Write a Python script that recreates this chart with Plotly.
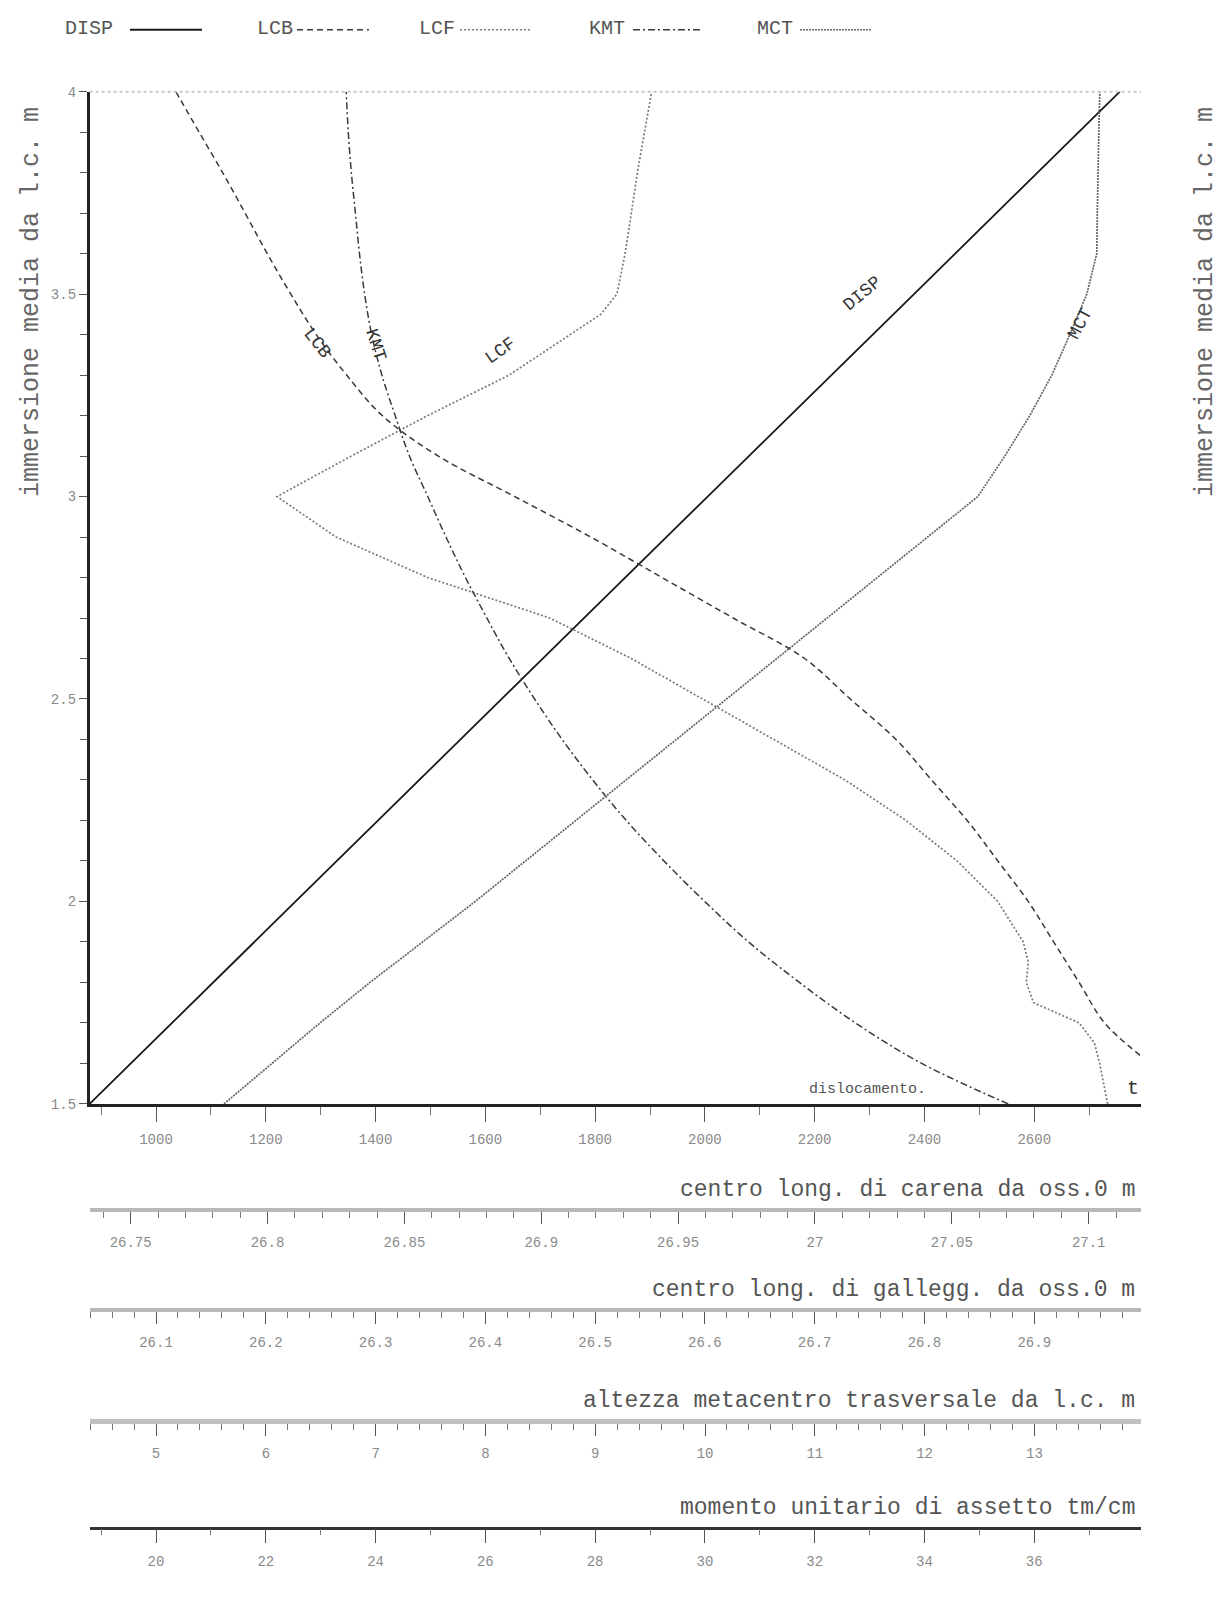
import plotly.graph_objects as go

W, H = 1223, 1597

# ---------------- data ----------------
disp_draft = [1.5, 2.0, 2.5, 3.0, 3.5, 4.0]
disp_t = [879, 1254, 1630, 2005, 2381, 2756]

lcb_draft = [1.62, 1.7, 1.8, 1.9, 2.0, 2.1, 2.2, 2.3, 2.4, 2.5, 2.6, 2.7, 2.8,
             2.9, 3.0, 3.1, 3.2, 3.3, 3.4, 3.5, 3.6, 3.7, 3.8, 3.9, 4.0]
lcb_m = [27.1188, 27.1058, 27.0965, 27.0872, 27.0779, 27.0668, 27.0556, 27.0426,
         27.0296, 27.0129, 26.9962, 26.9701, 26.9441, 26.9181, 26.8903, 26.8624,
         26.8419, 26.8289, 26.8178, 26.8085, 26.7999, 26.7918, 26.7836, 26.775, 26.7665]

lcf_draft = [1.5, 1.6, 1.65, 1.7, 1.75, 1.8, 1.85, 1.9, 2.0, 2.1, 2.2, 2.3, 2.4,
             2.5, 2.6, 2.7, 2.8, 2.9, 3.0, 3.1, 3.2, 3.3, 3.4, 3.45, 3.5, 3.6,
             3.7, 3.8, 3.9, 4.0]
lcf_m = [26.9669, 26.9596, 26.9549, 26.941, 26.8993, 26.8928, 26.8946, 26.89,
         26.8668, 26.8297, 26.7833, 26.7277, 26.6628, 26.5978, 26.533, 26.4587,
         26.3475, 26.264, 26.2102, 26.2779, 26.3475, 26.4217, 26.4773, 26.5051,
         26.5199, 26.5273, 26.533, 26.5385, 26.545, 26.5515]

kmt_draft = [1.5, 1.6, 1.7, 1.8, 1.9, 2.0, 2.1, 2.2, 2.3, 2.4, 2.5, 2.6, 2.7,
             2.8, 2.9, 3.0, 3.1, 3.2, 3.3, 3.4, 3.5, 3.6, 3.7, 3.8, 3.9, 4.0]
kmt_m = [12.761, 11.973, 11.370, 10.860, 10.396, 9.997, 9.626, 9.283, 8.977,
         8.699, 8.448, 8.217, 8.013, 7.818, 7.641, 7.475, 7.308, 7.178, 7.057,
         6.964, 6.900, 6.853, 6.816, 6.779, 6.751, 6.732]

mct_draft = [1.5, 1.6, 1.7, 1.8, 2.0, 2.5, 3.0, 3.1, 3.2, 3.3, 3.4, 3.5, 3.6,
             3.7, 3.8, 3.9, 4.0]
mct_tm = [21.239, 22.113, 22.987, 23.898, 25.816, 30.395, 34.973, 35.464, 35.920,
          36.321, 36.648, 36.958, 37.140, 37.149, 37.158, 37.177, 37.195]

# tick labels
y_ticks = [1.5, 2.0, 2.5, 3.0, 3.5, 4.0]
y_ticktext = ["1.5", "2", "2.5", "3", "3.5", "4"]
disp_ticks = [1000, 1200, 1400, 1600, 1800, 2000, 2200, 2400, 2600]
lcb_ticks = [26.75, 26.8, 26.85, 26.9, 26.95, 27.0, 27.05, 27.1]
lcb_ticktext = ["26.75", "26.8", "26.85", "26.9", "26.95", "27", "27.05", "27.1"]
lcf_ticks = [26.1, 26.2, 26.3, 26.4, 26.5, 26.6, 26.7, 26.8, 26.9]
lcf_ticktext = ["26.1", "26.2", "26.3", "26.4", "26.5", "26.6", "26.7", "26.8", "26.9"]
kmt_ticks = [5, 6, 7, 8, 9, 10, 11, 12, 13]
mct_ticks = [20, 22, 24, 26, 28, 30, 32, 34, 36]

series_names = ["DISP", "LCB", "LCF", "KMT", "MCT"]

# ---------------- styling / layout ----------------
FONT = "Liberation Mono"
styles = {
    "DISP": dict(color="#1a1a1a", width=1.8, dash="solid"),
    "LCB": dict(color="#3a3a3a", width=1.5, dash="6px,4px"),
    "LCF": dict(color="#7a7a7a", width=1.7, dash="2px,2px"),
    "KMT": dict(color="#3a3a3a", width=1.5, dash="7px,3px,2px,3px"),
    "MCT": dict(color="#666666", width=1.7, dash="2px,1px"),
}

def px(x):
    return x / W

def py(y):
    return 1 - y / H

X0, X1 = 89.6, 1140.7
Y_TOP, Y_BOT = 85.5, 1108
x_dom = [px(X0), px(X1)]
y_dom = [py(Y_BOT), py(Y_TOP)]

axis_line_y = {"LCB": 1215, "LCF": 1316, "KMT": 1428, "MCT": 1536}

fig = go.Figure()
fig.add_trace(go.Scatter(x=disp_t, y=disp_draft, mode="lines", line=styles["DISP"],
                         xaxis="x", yaxis="y", showlegend=False))
fig.add_trace(go.Scatter(x=lcb_m, y=lcb_draft, mode="lines", line=styles["LCB"],
                         xaxis="x2", yaxis="y", showlegend=False, line_shape="spline"))
fig.add_trace(go.Scatter(x=lcf_m, y=lcf_draft, mode="lines", line=styles["LCF"],
                         xaxis="x3", yaxis="y", showlegend=False))
fig.add_trace(go.Scatter(x=kmt_m, y=kmt_draft, mode="lines", line=styles["KMT"],
                         xaxis="x4", yaxis="y", showlegend=False, line_shape="spline"))
fig.add_trace(go.Scatter(x=mct_tm, y=mct_draft, mode="lines", line=styles["MCT"],
                         xaxis="x5", yaxis="y", showlegend=False))

tickfont = dict(family=FONT, size=14, color="#8a8a8a")

def free_x(rng, tickvals, ticktext, minor_dtick, pos, linecolor, linewidth, ticklen):
    return dict(
        domain=x_dom, range=rng, overlaying="x", anchor="free", position=pos,
        side="bottom", showgrid=False, zeroline=False, showline=True,
        linecolor=linecolor, linewidth=linewidth, ticks="outside",
        tickvals=tickvals, ticktext=ticktext, ticklen=ticklen, tickwidth=1.2,
        tickcolor="#555", tickfont=tickfont, ticklabelstandoff=6,
        minor=dict(dtick=minor_dtick, ticks="outside", ticklen=6, tickcolor="#777",
                   tickwidth=1, showgrid=False),
        fixedrange=True,
    )

fig.update_layout(
    width=W, height=H, margin=dict(l=0, r=0, t=0, b=0),
    paper_bgcolor="white", plot_bgcolor="white", showlegend=False,
    xaxis=dict(domain=x_dom, range=[879, 2794], anchor="y", showgrid=False,
               zeroline=False, showline=True, linecolor="#222", linewidth=2.5,
               ticks="outside", tickvals=disp_ticks, ticklen=15, tickwidth=1.2,
               tickcolor="#555", tickfont=tickfont, ticklabelstandoff=6,
               minor=dict(dtick=100, tick0=0, ticks="outside", ticklen=8,
                          tickcolor="#777", tickwidth=1, showgrid=False)),
    xaxis2=free_x([26.735, 27.119], lcb_ticks, lcb_ticktext, 0.01,
                  py(axis_line_y["LCB"]), "#b8b8b8", 4, 12),
    xaxis3=free_x([26.0395, 26.997], lcf_ticks, lcf_ticktext, 0.02,
                  py(axis_line_y["LCF"]), "#b8b8b8", 4, 12),
    xaxis4=free_x([4.395, 13.968], kmt_ticks, [str(v) for v in kmt_ticks], 0.2,
                  py(axis_line_y["KMT"]), "#c0c0c0", 5, 12),
    xaxis5=free_x([18.79, 37.94], mct_ticks, [str(v) for v in mct_ticks], 1,
                  py(axis_line_y["MCT"]), "#333", 2.5, 14),
    yaxis=dict(domain=y_dom, range=[1.5, 4.0], anchor="x", side="left",
               showgrid=False, zeroline=False, showline=True, linecolor="#222",
               linewidth=2.5, ticks="outside", tickvals=y_ticks, ticktext=y_ticktext,
               ticklen=8, tickwidth=1.2, tickcolor="#555", tickfont=tickfont,
               minor=dict(dtick=0.1, tick0=1.5, ticks="outside", ticklen=7,
                          tickcolor="#555", tickwidth=1.2, showgrid=False)),
    yaxis2=dict(domain=y_dom, range=[1.5, 4.0], anchor="x", overlaying="y",
                side="right", showgrid=False, zeroline=False, showline=True,
                linecolor="#222", linewidth=2.5, ticks="outside", tickvals=y_ticks,
                ticktext=y_ticktext, ticklen=8, tickwidth=1.2, tickcolor="#555",
                tickfont=tickfont,
                minor=dict(dtick=0.1, tick0=1.5, ticks="outside", ticklen=7,
                           tickcolor="#555", tickwidth=1.2, showgrid=False)),
)

# faint top border of the plot frame
fig.add_shape(type="line", xref="x domain", yref="y domain", x0=0, x1=1, y0=1, y1=1,
              line=dict(color="#c8c8c8", width=2, dash="3px,3px"))

# y axis titles
ytitle = "immersione media da l.c. m"
for xp in (31, 1205):
    fig.add_annotation(text=ytitle, x=px(xp), y=py(298), xref="paper", yref="paper",
                       xanchor="center", yanchor="middle",
                       showarrow=False, textangle=-90,
                       font=dict(family=FONT, size=25, color="#666"))

# lower axis titles
axis_titles = {
    "LCB": "centro long. di carena da oss.0 m",
    "LCF": "centro long. di gallegg. da oss.0 m",
    "KMT": "altezza metacentro trasversale da l.c. m",
    "MCT": "momento unitario di assetto tm/cm",
}
for key, txt in axis_titles.items():
    fig.add_annotation(text=txt, x=px(X1 - 4), y=py(axis_line_y[key] - 5),
                       xref="paper", yref="paper", xanchor="right", yanchor="bottom",
                       showarrow=False, font=dict(family=FONT, size=23, color="#555"))

# dislocamento label
fig.add_annotation(text="dislocamento.", x=px(867), y=py(1093), xref="paper",
                   yref="paper", xanchor="center", yanchor="middle", showarrow=False,
                   font=dict(family=FONT, size=15, color="#555"))
fig.add_annotation(text="t", x=px(1133), y=py(1092), xref="paper", yref="paper",
                   xanchor="center", yanchor="middle",
                   showarrow=False, font=dict(family=FONT, size=20, color="#333"))

# curve labels
curve_labels = [("LCB", 318, 340, 52), ("KMT", 376, 341, 72), ("LCF", 500, 347, -35),
                ("DISP", 862, 290, -40), ("MCT", 1080, 320, -62)]
for name, xx, yy, ang in curve_labels:
    fig.add_annotation(text=name, x=px(xx), y=py(yy), xref="paper", yref="paper",
                       xanchor="center", yanchor="middle",
                       showarrow=False, textangle=ang,
                       font=dict(family=FONT, size=18, color="#333"))

# legend row (text followed by line sample)
leg_text_x = [63, 255, 417, 587, 755]
leg_line_x = [(130, 202), (297, 369), (460, 532), (633, 703), (800, 871)]
LEG_Y = 22
for name, tx, (l0, l1) in zip(series_names, leg_text_x, leg_line_x):
    fig.add_annotation(text=name, x=px(tx), y=py(LEG_Y), xref="paper", yref="paper",
                       xanchor="left", yanchor="middle", showarrow=False,
                       font=dict(family=FONT, size=20, color="#555"))
    st = styles[name]
    fig.add_shape(type="line", xref="paper", yref="paper", x0=px(l0), x1=px(l1),
                  y0=py(LEG_Y + 1), y1=py(LEG_Y + 1),
                  line=dict(color=st["color"], width=st["width"], dash=st["dash"]))

fig.write_html("out.html", config={"displayModeBar": False},
               post_script="document.body.style.margin='0px';"
               "document.body.style.padding='0px';")
